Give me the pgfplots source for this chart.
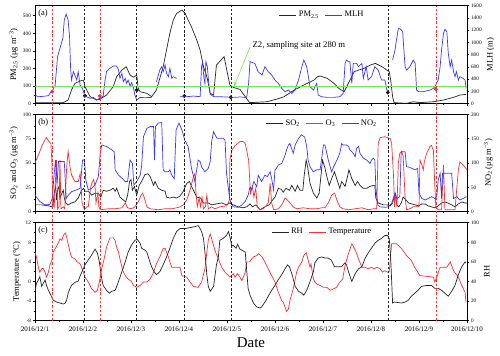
\documentclass[border=0pt]{standalone}
\usepackage{pgfplots}
\pgfplotsset{compat=1.18}
\usepackage{fontspec}
\setmainfont{Liberation Serif}
\usetikzlibrary{arrows.meta}

\definecolor{cblue}{RGB}{55,55,255}
\definecolor{cred}{RGB}{255,45,45}
\definecolor{cdark}{RGB}{35,35,35}
\definecolor{cgreen}{RGB}{110,235,90}

\tikzset{tag/.style={anchor=north west, font=\fontsize{8.5}{10}\selectfont, inner sep=1bp}}

\pgfplotsset{
  base/.style={
    scale only axis, width=432bp, xmin=0, xmax=9,
    tick align=outside, major tick length=2.4bp, minor tick length=1.3bp,
    axis line style={line width=0.6bp},
    every tick/.append style={line width=0.5bp, black},
    xticklabel style={font=\fontsize{7}{8}\selectfont},
    yticklabel style={font=\fontsize{5.3}{6}\selectfont, inner sep=1.5bp},
    label style={font=\fontsize{8.5}{10}\selectfont},
    /pgf/number format/assume math mode=true,
    /pgf/number format/1000 sep={},
    minor y tick num=1,
  },
  lax/.style={base, anchor=south west, xtick={0,...,9}, minor x tick num=1,
    xtick pos=left, ytick pos=left, xticklabels={}},
  rax/.style={base, anchor=south west, axis x line=none, axis y line*=right,
    ytick pos=right, xtick=\empty},
  ln/.style={line width=0.7bp, mark=none},
  leg/.style={legend style={draw=none, fill=none, at={(0.665,0.985)}, anchor=north,
    legend columns=-1, font=\fontsize{8.5}{10}\selectfont,
    /tikz/every even column/.append style={column sep=4bp}}},
}

\begin{document}
\begin{tikzpicture}
\useasboundingbox (0,0) rectangle (500bp,356bp);

% ---- (a) PM2.5 and MLH
\begin{axis}[lax, at={(35bp,252.3bp)}, height=98bp,
  ymin=0, ymax=557, ytick={0,100,...,500},
  ylabel={PM\textsubscript{2.5} (μg m\textsuperscript{−3})}]
\addplot[ln, cdark] coordinates {
(0,5.7) (0.59,5.7) (0.69,21) (0.76,78) (0.83,115) (0.94,129) (1.01,134) (1.04,97)
(1.15,40) (1.28,21) (1.35,25) (1.49,49) (1.63,97) (1.70,153) (1.81,191) (1.90,210)
(1.98,163) (2.05,150) (2.12,163) (2.15,87) (2.19,68) (2.33,59) (2.43,40) (2.53,78)
(2.67,210) (2.74,305) (2.81,400) (2.88,475) (2.95,513) (3.06,532) (3.13,513) (3.19,475)
(3.26,437) (3.37,362) (3.44,305) (3.51,210) (3.58,153) (3.61,115) (3.65,59) (3.72,49)
(3.78,220) (3.94,267) (4.01,172) (4.06,106) (4.13,93) (4.27,81) (4.38,40) (4.47,6)
(4.83,11) (5.05,27) (5.19,40) (5.40,78) (5.60,106) (5.81,134) (5.88,153) (5.95,157)
(6.09,144) (6.23,115) (6.33,87) (6.44,68) (6.51,106) (6.58,144) (6.65,182) (6.74,191)
(6.85,200) (6.99,220) (7.09,229) (7.23,210) (7.33,191) (7.38,182) (7.41,134) (7.45,40)
(7.48,6) (7.74,2) (7.88,11) (8.02,6) (8.30,11) (8.51,21) (8.72,36) (8.85,49) (8.98,53)
};
\addplot[only marks, mark=*, mark size=1.7bp, black] coordinates {
(1.04,45) (2.12,77) (3.11,44) (4.08,36) (7.35,64)};
\addplot[only marks, mark=*, mark size=1.7bp, cred] coordinates {
(0.36,68) (1.35,44) (8.35,83)};
\node[tag] at (rel axis cs:0.005,0.97) {(a)};
\end{axis}
\begin{axis}[rax, at={(35bp,252.3bp)}, height=98bp,
  ymin=0, ymax=1600, ytick={0,200,...,1600},
  ylabel={MLH (m)}, unbounded coords=jump, leg]
\addlegendimage{ln, cdark}
\addlegendentry{PM\textsubscript{2.5}}
\addplot[ln, cblue] coordinates {
(0.00,141) (0.07,114) (0.17,120) (0.28,131) (0.31,169) (0.36,212) (0.42,305) (0.47,767)
(0.52,903) (0.58,1067) (0.61,1366) (0.65,1464) (0.69,1366) (0.72,1094) (0.74,604) (0.76,386)
(0.80,522) (0.83,468) (0.87,386) (0.90,522) (0.94,305) (0.99,250) (1.04,125) (1.15,87)
(1.22,103) (1.28,60) (1.35,87) (1.42,125) (1.46,386) (1.49,522) (1.56,577) (1.63,615)
(1.70,615) (1.74,550) (1.77,414) (1.81,495) (1.84,359) (1.88,414) (1.91,332) (1.94,386)
(1.98,288) (2.01,343) (2.05,267) (2.08,141) (2.12,60) (2.19,103) (2.29,98) (2.43,103)
(2.48,nan)
(2.53,359) (2.57,468) (2.60,550) (2.64,604) (2.67,522) (2.71,631) (2.74,495) (2.78,441)
(2.81,577) (2.85,414) (2.88,441) (2.95,414)
(2.98,nan)
(3.02,114) (3.16,114) (3.30,125) (3.44,114) (3.47,604) (3.49,686) (3.52,414) (3.54,332)
(3.56,686) (3.59,604) (3.62,332) (3.65,158) (3.72,114) (3.85,114) (3.99,109) (4.13,103)
(4.27,109) (4.41,103) (4.45,332)
(4.48,686) (4.58,658) (4.65,522) (4.73,468) (4.79,604) (4.86,522) (4.93,468) (5.00,386)
(5.07,332) (5.14,250) (5.21,196) (5.28,223) (5.35,169) (5.42,223) (5.49,386) (5.56,604)
(5.60,713) (5.66,604) (5.73,278) (5.80,223) (5.87,332) (5.90,141) (5.97,114) (6.08,103)
(6.22,103) (6.35,114) (6.42,169) (6.46,658) (6.49,713) (6.53,686) (6.56,686) (6.60,332)
(6.63,658) (6.70,658) (6.74,604) (6.81,658) (6.84,414) (6.90,604) (6.94,386) (7.01,441)
(7.08,604) (7.15,550) (7.22,386) (7.29,386) (7.33,223) (7.36,196)
(7.40,nan)
(7.45,713) (7.50,876) (7.53,1039) (7.57,1230) (7.62,1214) (7.66,1175) (7.69,822) (7.71,604)
(7.74,550) (7.81,604) (7.88,713) (7.92,658) (7.95,223) (7.99,196) (8.09,196) (8.23,223)
(8.30,250) (8.33,278) (8.40,386) (8.44,604) (8.47,876) (8.51,1148) (8.54,1214) (8.58,1175)
(8.61,822) (8.65,604) (8.68,713) (8.72,522) (8.75,441) (8.78,522) (8.82,386) (8.85,441)
(8.92,414) (8.96,386) (8.98,250)
};
\addlegendentry{MLH}
\addplot[ln, cgreen, forget plot] coordinates {(0,280) (9,280)};
\draw[cgreen, line width=0.6bp, -{Stealth[length=4bp,width=3bp]}]
  (axis cs:4.48,925) -- (axis cs:4.15,290);
\node[anchor=west, font=\fontsize{8.7}{10}\selectfont, inner sep=1bp]
  at (axis cs:4.51,958) {Z2, sampling site at 280 m};
\end{axis}

% ---- (b) SO2, O3, NO2
\begin{axis}[lax, at={(35bp,144.3bp)}, height=97.4bp,
  ymin=0, ymax=100, ytick={0,25,...,100},
  ylabel={SO\textsubscript{2} and O\textsubscript{3} (μg m\textsuperscript{−3})}]
\addplot[ln, cdark] coordinates {
(0,7) (0.14,7) (0.28,6) (0.35,5) (0.38,9) (0.40,19) (0.43,26) (0.45,12) (0.47,22) (0.50,26)
(0.52,14) (0.56,19) (0.59,22) (0.61,14) (0.64,9) (0.69,7) (0.76,9) (0.83,10) (0.90,14)
(0.97,22) (1.01,24) (1.04,21) (1.11,21) (1.18,17) (1.25,19) (1.32,19) (1.37,15) (1.42,22)
(1.49,21) (1.56,22) (1.63,24) (1.67,21) (1.70,24) (1.77,15) (1.84,12) (1.89,10) (1.93,17)
(1.97,31) (2.00,33) (2.03,22) (2.07,26) (2.12,17) (2.17,27) (2.22,31) (2.29,38) (2.35,39)
(2.40,36) (2.47,27) (2.50,31) (2.57,24) (2.64,22) (2.71,21) (2.74,15) (2.81,14) (2.88,15)
(2.95,14) (3.02,16) (3.09,21) (3.16,29) (3.22,31) (3.26,26) (3.31,21) (3.37,15) (3.45,14)
(3.51,9) (3.61,9) (3.68,7) (3.78,8) (3.89,9) (3.99,7) (4.06,9) (4.13,7) (4.24,5) (4.34,4)
(4.41,5) (4.48,8) (4.53,5) (4.60,7) (4.69,2) (4.79,5) (4.88,7) (4.95,12) (5.00,15) (5.07,24)
(5.13,23) (5.17,20) (5.23,24) (5.30,22) (5.35,27) (5.42,21) (5.47,27) (5.52,22) (5.58,22)
(5.61,38) (5.65,53) (5.68,46) (5.73,29) (5.80,19) (5.87,14) (5.92,19) (5.96,38) (5.99,53)
(6.04,45) (6.08,36) (6.13,27) (6.18,34) (6.24,41) (6.29,33) (6.35,24) (6.39,31) (6.46,26)
(6.51,36) (6.54,43) (6.60,34) (6.67,27) (6.72,31) (6.77,27) (6.84,24) (6.91,24) (6.98,26)
(7.05,27) (7.08,27) (7.10,14) (7.15,9) (7.26,7) (7.33,7) (7.40,6) (7.45,9) (7.50,19)
(7.54,7) (7.58,5) (7.63,9) (7.67,15) (7.73,12) (7.78,9) (7.85,8) (7.92,7) (7.99,6) (8.06,8)
(8.13,8) (8.19,6) (8.26,5) (8.33,4) (8.40,6) (8.47,9) (8.54,10) (8.60,9) (8.68,7) (8.75,5)
(8.82,8) (8.89,10) (8.96,9) (9.00,9)
};
\addplot[ln, cred] coordinates {
(0,50) (0.07,58) (0.14,67) (0.21,74) (0.24,76) (0.29,72) (0.33,70) (0.35,53) (0.37,9)
(0.40,5) (0.43,36) (0.45,53) (0.47,3) (0.50,5) (0.52,53) (0.54,3) (0.59,5) (0.62,3)
(0.66,46) (0.69,62) (0.73,46) (0.76,38) (0.80,34) (0.83,31) (0.90,31) (0.94,39) (0.96,26)
(0.98,9) (1.03,2) (1.08,5) (1.11,5) (1.15,22) (1.18,29) (1.22,33) (1.25,27) (1.27,9)
(1.31,19) (1.33,5) (1.36,2) (1.53,3) (1.67,3) (1.81,4) (1.88,9) (1.93,4) (2.01,3) (2.08,5)
(2.15,10) (2.21,17) (2.24,19) (2.28,14) (2.33,5) (2.40,3) (2.57,2) (2.71,3) (2.85,3)
(2.95,4) (3.02,5) (3.09,7) (3.16,12) (3.23,22) (3.30,36) (3.33,39) (3.35,22) (3.38,5)
(3.42,14) (3.45,5) (3.48,15) (3.51,3) (3.55,5) (3.58,17) (3.61,3) (3.68,5) (3.75,3)
(3.85,5) (4.00,6) (4.05,12) (4.06,53) (4.10,63) (4.17,68) (4.27,72) (4.34,72) (4.38,70)
(4.41,63) (4.45,53) (4.47,36) (4.49,19) (4.53,26) (4.56,15) (4.60,24) (4.63,5) (4.69,2)
(4.76,3) (4.86,9) (4.90,29) (4.93,9) (4.97,2) (5.07,3) (5.14,7) (5.21,14) (5.24,13)
(5.31,9) (5.38,5) (5.45,3) (5.59,4) (5.73,3) (5.87,3) (5.97,4) (6.04,4) (6.11,9) (6.18,17)
(6.24,19) (6.29,12) (6.35,5) (6.42,3) (6.53,2) (6.67,3) (6.81,4) (6.94,2) (7.05,3)
(7.12,3) (7.15,70) (7.19,76) (7.29,77) (7.40,75) (7.43,70) (7.47,36) (7.49,5) (7.51,19)
(7.54,5) (7.57,50) (7.60,60) (7.64,62) (7.67,57) (7.71,15) (7.74,2) (7.81,3) (7.88,5)
(8.00,5) (8.02,53) (8.06,48) (8.09,43) (8.11,51) (8.16,60) (8.23,67) (8.26,68) (8.30,63)
(8.33,26) (8.35,5) (8.40,2) (8.47,2) (8.51,48) (8.54,2) (8.67,2) (8.75,2) (8.82,43)
(8.85,51) (8.92,48) (9.00,43)
};
\node[tag] at (rel axis cs:0.005,0.97) {(b)};
\end{axis}
\begin{axis}[rax, at={(35bp,144.3bp)}, height=97.4bp,
  ymin=0, ymax=200, ytick={0,50,...,200},
  ylabel={NO\textsubscript{2} (μg m\textsuperscript{−3})}, leg]
\addlegendimage{ln, cdark}
\addlegendentry{SO\textsubscript{2}}
\addlegendimage{ln, cred}
\addlegendentry{O\textsubscript{3}}
\addplot[ln, cblue] coordinates {
(0,34) (0.10,21) (0.21,14) (0.31,15) (0.36,27) (0.40,79) (0.43,106) (0.46,58) (0.49,103)
(0.56,103) (0.61,103) (0.65,27) (0.68,32) (0.76,41) (0.87,45) (0.94,48) (0.99,106)
(1.03,106) (1.06,65) (1.11,45) (1.18,48) (1.25,55) (1.32,72) (1.36,120) (1.39,137)
(1.49,134) (1.60,127) (1.65,123) (1.67,86) (1.74,75) (1.81,69) (1.88,62) (1.93,62)
(1.98,106) (2.03,99) (2.06,55) (2.12,62) (2.19,75) (2.22,92) (2.26,154) (2.33,171)
(2.40,175) (2.47,175) (2.49,106) (2.51,175) (2.57,182) (2.64,183) (2.67,86) (2.71,82)
(2.78,82) (2.81,86) (2.85,75) (2.90,68) (2.94,168) (3.00,182) (3.06,168) (3.12,147)
(3.19,134) (3.26,89) (3.33,62) (3.40,106) (3.44,103) (3.47,92) (3.54,82) (3.61,89)
(3.65,103) (3.68,144) (3.72,164) (3.75,158) (3.79,151) (3.85,151) (3.92,151) (3.96,147)
(3.99,79) (4.05,31) (4.08,17) (4.13,10) (4.24,9) (4.31,14) (4.38,21) (4.44,34) (4.48,51)
(4.51,45) (4.56,62) (4.62,51) (4.65,75) (4.72,62) (4.79,75) (4.84,72) (4.90,82) (4.93,68)
(4.97,45) (5.00,86) (5.03,89) (5.07,96) (5.14,99) (5.21,116) (5.24,127) (5.28,137)
(5.31,140) (5.38,120) (5.42,137) (5.49,150) (5.55,158) (5.62,153) (5.66,134) (5.69,106)
(5.73,92) (5.80,82) (5.87,86) (5.94,86) (6.01,137) (6.04,137) (6.08,120) (6.11,106)
(6.18,82) (6.22,92) (6.29,106) (6.35,120) (6.39,140) (6.42,137) (6.49,137) (6.53,134)
(6.56,127) (6.63,120) (6.67,113) (6.70,130) (6.74,134) (6.77,120) (6.84,110) (6.91,106)
(6.98,99) (7.01,106) (7.05,110) (7.08,106) (7.10,51) (7.14,14) (7.19,10) (7.29,9)
(7.36,10) (7.43,17) (7.50,38) (7.54,27) (7.60,31) (7.63,123) (7.71,123) (7.74,92)
(7.78,92) (7.85,89) (7.92,86) (7.97,89) (8.00,38) (8.06,27) (8.13,24) (8.19,27) (8.26,31)
(8.33,27) (8.37,31) (8.40,65) (8.44,79) (8.47,27) (8.49,79) (8.58,79) (8.68,79) (8.72,27)
(8.79,31) (8.85,24) (8.92,27) (8.99,31)
};
\addlegendentry{NO\textsubscript{2}}
\end{axis}

% ---- (c) Temperature and RH
\begin{axis}[lax, at={(35bp,35.3bp)}, height=98bp,
  ymin=-8, ymax=12, ytick={-8,-4,...,12},
  ylabel={Temperature (°C)},
  xticklabels={2016/12/1,2016/12/2,2016/12/3,2016/12/4,2016/12/5,2016/12/6,2016/12/7,2016/12/8,2016/12/9,2016/12/10},
  xlabel={Date}, xlabel style={font=\fontsize{15}{16}\selectfont}]
\addplot[ln, cred] coordinates {
(0,6.0) (0.03,5.0) (0.07,2.9) (0.10,1.9) (0.14,2.6) (0.17,2.7) (0.21,1.9) (0.24,0.9)
(0.28,1.9) (0.31,3.3) (0.35,4.3) (0.38,6.0) (0.44,7.0) (0.49,8.0) (0.52,8.7) (0.56,8.4)
(0.59,9.4) (0.63,9.9) (0.66,9.1) (0.69,7.7) (0.73,6.0) (0.76,5.0) (0.83,4.6) (0.88,4.0)
(0.94,3.6) (0.97,2.9) (1.01,1.9) (1.04,0.9) (1.11,-0.1) (1.18,-1.5) (1.25,-2.2) (1.30,-1.8)
(1.34,-0.1) (1.39,2.6) (1.44,4.6) (1.49,7.0) (1.56,8.9) (1.63,8.9) (1.67,8.4) (1.70,7.0)
(1.74,6.0) (1.77,4.6) (1.83,2.2) (1.88,1.2) (1.94,0.5) (2.01,0) (2.05,-0.8) (2.12,-1.2)
(2.19,-0.8) (2.26,-0.1) (2.33,-0.1) (2.40,0.5) (2.47,1.9) (2.53,3.6) (2.60,5.0) (2.64,6.0)
(2.67,6.7) (2.71,6.8) (2.74,6.0) (2.78,5.0) (2.81,4.0) (2.85,2.9) (3.02,2.9) (3.06,1.2)
(3.16,0.9) (3.23,-0.1) (3.30,-1.0) (3.40,-1.2) (3.47,-0.1) (3.54,2.6) (3.58,6.0) (3.61,8.4)
(3.65,9.7) (3.68,8.7) (3.75,6.3) (3.82,4.6) (3.89,2.9) (3.96,1.9) (4.03,1.2) (4.06,0.9)
(4.13,1.6) (4.17,0.9) (4.22,1.6) (4.27,0.9) (4.31,0.2) (4.38,1.9) (4.41,4.0) (4.47,4.0)
(4.55,5.0) (4.62,5.3) (4.66,5.7) (4.73,5.0) (4.79,4.0) (4.86,2.6) (4.93,1.2) (5.00,-0.1)
(5.07,-2.2) (5.14,-3.9) (5.17,-4.2) (5.21,-5.2) (5.24,-6.1) (5.28,-5.6) (5.31,-3.9)
(5.38,-1.5) (5.45,1.9) (5.49,2.9) (5.56,4.0) (5.60,5.3) (5.65,5.9) (5.70,4.0) (5.73,2.9)
(5.75,3.6) (5.80,0.5) (5.83,-0.1) (5.87,-0.5) (5.94,-0.8) (6.01,-1.2) (6.08,-1.2)
(6.15,-1.8) (6.22,-1.5) (6.28,-1.2) (6.35,-0.1) (6.41,0.5) (6.46,3.3) (6.53,5.7) (6.60,7.7)
(6.63,7.2) (6.69,6.0) (6.74,4.6) (6.81,2.9) (6.88,2.9) (6.94,2.6) (7.01,2.9) (7.06,2.6)
(7.12,2.9) (7.19,2.6) (7.24,1.9) (7.29,2.2) (7.34,1.9) (7.38,2.0) (7.43,7.7) (7.53,7.7)
(7.64,6.7) (7.74,5.3) (7.84,4.3) (7.91,2.9) (8.02,1.2) (8.30,0.9) (8.33,-0.1) (8.37,0.9)
(8.44,2.9) (8.58,2.9) (8.65,4.0) (8.72,2.2) (8.82,0.9) (8.89,-0.8) (8.96,-2.2) (8.98,-4.2)
};
\node[tag] at (rel axis cs:0.005,0.97) {(c)};
\end{axis}
\begin{axis}[rax, at={(35bp,35.3bp)}, height=98bp,
  ymin=0, ymax=100, ytick={0,20,...,100}, ylabel={RH}, leg]
\addplot[ln, cdark] coordinates {
(0,29.6) (0.03,38) (0.07,41.5) (0.10,45) (0.14,35) (0.17,38) (0.21,41.5) (0.24,36) (0.28,31)
(0.31,28) (0.38,21) (0.45,19) (0.52,18) (0.59,17) (0.63,18) (0.66,21) (0.69,28) (0.73,33)
(0.76,36) (0.83,39) (0.90,40.5) (0.96,48) (1.01,53.4) (1.04,57) (1.11,62) (1.18,67)
(1.25,73) (1.30,69) (1.34,60) (1.39,43) (1.42,36) (1.49,31) (1.55,28) (1.60,30) (1.67,31)
(1.74,40) (1.81,50) (1.88,60) (1.94,70) (2.01,77) (2.08,82) (2.13,83) (2.19,79) (2.22,74)
(2.29,72) (2.33,70) (2.40,59) (2.43,55) (2.48,50) (2.53,47) (2.60,50) (2.67,57) (2.74,65)
(2.81,74) (2.88,84) (2.95,91) (3.02,94) (3.13,94) (3.23,95) (3.33,96) (3.40,97) (3.44,94)
(3.47,91) (3.51,84) (3.54,70) (3.58,47) (3.61,35) (3.65,30) (3.72,35) (3.78,57) (3.82,65)
(3.85,82) (3.92,84) (3.99,87) (4.03,91) (4.06,86) (4.10,76) (4.13,77) (4.19,74) (4.22,78)
(4.27,73) (4.38,70) (4.44,33) (4.48,26) (4.55,18) (4.62,14) (4.69,13) (4.72,14) (4.79,19)
(4.86,25) (4.93,31) (5.00,36) (5.07,42) (5.14,47) (5.21,53) (5.26,57) (5.30,55) (5.35,48)
(5.42,35) (5.49,30) (5.56,28) (5.60,26) (5.66,31) (5.73,40) (5.80,50) (5.83,59) (5.90,64)
(5.97,65) (6.04,64) (6.10,64) (6.17,62) (6.24,55) (6.31,55) (6.38,55) (6.46,59) (6.49,57)
(6.53,50) (6.60,40) (6.67,48) (6.74,53) (6.81,55) (6.88,64) (6.94,69) (7.01,74) (7.08,79)
(7.15,82) (7.22,84) (7.29,87) (7.34,87) (7.38,84) (7.41,64) (7.45,18) (7.49,19) (7.64,18)
(7.71,19) (7.78,21) (7.84,25) (7.91,28) (7.98,31) (8.05,35) (8.16,36) (8.26,36) (8.33,33)
(8.40,33) (8.47,31) (8.54,28) (8.61,25) (8.68,30) (8.75,36) (8.82,47) (8.89,55) (8.96,60)
(8.98,59)
};
\addlegendentry{RH}
\addlegendimage{ln, cred}
\addlegendentry{Temperature}
\end{axis}

% ---- vertical dashed markers through all three panels
\begin{axis}[at={(35bp,35.3bp)}, anchor=south west, scale only axis,
  width=432bp, height=315bp, xmin=0, xmax=9, ymin=0, ymax=1, hide axis, clip=false]
\addplot[cred, line width=0.6bp, dash pattern=on 2.5bp off 1.8bp] coordinates {(0.36,0) (0.36,1)};
\addplot[cred, line width=0.6bp, dash pattern=on 2.5bp off 1.8bp] coordinates {(1.35,0) (1.35,1)};
\addplot[cred, line width=0.6bp, dash pattern=on 2.5bp off 1.8bp] coordinates {(8.35,0) (8.35,1)};
\addplot[cdark, line width=0.6bp, dash pattern=on 2.5bp off 1.8bp] coordinates {(1.03,0) (1.03,1)};
\addplot[cdark, line width=0.6bp, dash pattern=on 2.5bp off 1.8bp] coordinates {(2.11,0) (2.11,1)};
\addplot[cdark, line width=0.6bp, dash pattern=on 2.5bp off 1.8bp] coordinates {(3.11,0) (3.11,1)};
\addplot[cdark, line width=0.6bp, dash pattern=on 2.5bp off 1.8bp] coordinates {(4.08,0) (4.08,1)};
\addplot[cdark, line width=0.6bp, dash pattern=on 2.5bp off 1.8bp] coordinates {(7.35,0) (7.35,1)};
\end{axis}
\end{tikzpicture}
\end{document}
